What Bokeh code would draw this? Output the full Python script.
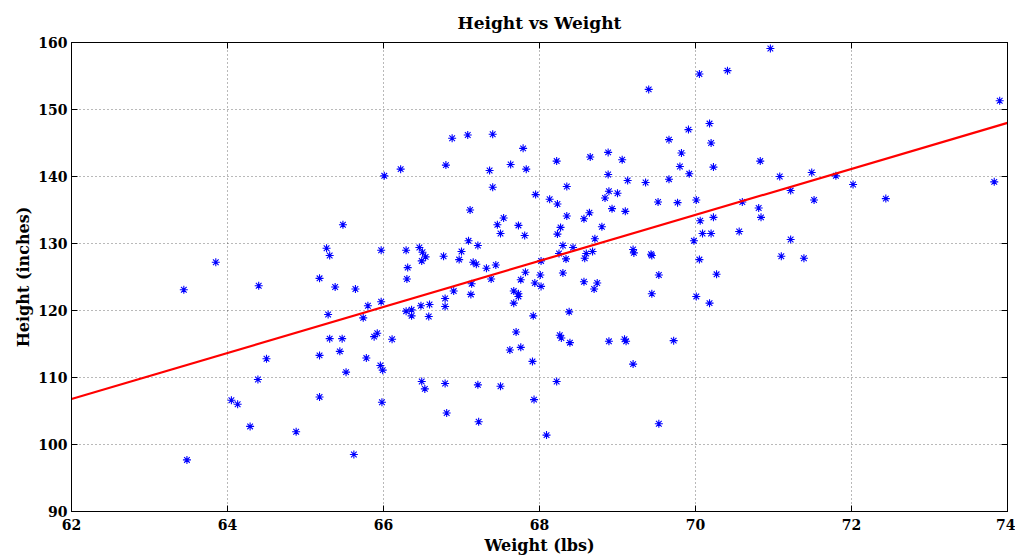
from bokeh.plotting import figure
from bokeh.models import LinearAxis, FixedTicker, Range1d
from bokeh.embed import file_html
from bokeh.resources import INLINE

# Weight (lbs) / Height (inches) samples
weight = [
    66.01, 66.22, 66.88, 67.08, 67.40, 66.80, 67.36, 67.63, 67.79, 67.83, 67.40, 67.95,
    68.13, 68.22, 68.35, 68.65, 68.88, 69.06, 68.88, 69.13, 68.89, 69.00, 68.84, 69.36,
    69.40, 69.66, 69.82, 69.91, 69.80, 69.66, 69.92, 69.52, 69.77, 70.01, 70.05, 70.41,
    70.96, 70.18, 70.20, 70.23, 70.83,
    73.90, 71.08, 71.49, 71.80, 71.22, 72.02, 73.83, 71.52, 72.44,
    63.85, 63.44, 64.40, 64.50,
    65.48, 65.27, 65.31, 65.18, 65.38, 65.64, 65.80, 65.97, 65.29, 65.74, 65.92, 65.88,
    65.31, 65.47, 66.11, 65.44, 65.18, 65.78, 65.97, 66.29, 66.31, 66.30, 66.46, 66.50,
    66.54, 66.49, 66.77, 67.00, 66.97, 67.09, 67.21, 67.11, 67.46, 67.54, 67.50, 67.73,
    67.81, 67.15, 67.19, 67.32, 67.44, 67.13, 67.12, 66.90, 67.38, 67.76, 67.82, 66.79,
    66.79, 66.48, 66.59, 66.29, 66.36, 66.36, 66.58, 67.67, 67.73, 67.73, 67.67, 67.92,
    67.70, 67.62, 67.76, 67.94, 67.91,
    70.60, 70.81, 70.84, 68.35, 68.64, 68.57, 68.93, 69.10, 68.27, 68.23, 68.80, 68.71,
    68.30, 68.43, 68.25, 68.34, 68.68, 68.60, 68.58, 68.02, 68.01, 68.30, 68.02, 68.57,
    68.74, 68.70, 69.20, 69.21, 69.43, 69.44, 69.53, 69.44, 69.98, 70.06, 70.09, 70.20,
    70.23, 70.56, 70.05, 70.27, 70.01, 70.18, 68.38, 68.26, 68.28, 68.39, 68.89, 69.09,
    69.11, 69.72, 68.23,
    71.22, 71.10, 71.39,
    64.39, 64.05, 64.13, 64.29, 64.88, 63.48,
    65.96, 65.99, 65.52, 65.18, 65.98, 66.49, 66.53, 66.79, 66.81, 67.21, 67.50, 67.22,
    65.62, 67.93,
    69.20, 68.22, 69.53, 68.09,
]
height = [
    140.1, 141.1, 145.7, 146.2, 146.3, 141.7, 140.9, 141.8, 144.2, 141.1, 138.4, 137.3,
    136.6, 142.3, 138.5, 142.9, 143.6, 142.5, 140.3, 139.4, 137.8, 137.5, 136.8, 139.1,
    153.0, 145.5, 143.5, 147.0, 141.5, 139.6, 140.4, 136.2, 136.1, 136.5, 155.3, 155.8,
    159.1, 147.9, 145.0, 141.4, 142.3,
    151.3, 140.0, 140.6, 140.1, 137.9, 138.8, 139.2, 136.5, 136.7,
    127.2, 123.1, 123.7, 112.8,
    132.8, 129.3, 128.2, 124.8, 123.5, 123.2, 120.7, 121.3, 119.4, 118.9, 116.6, 116.1,
    115.8, 115.8, 115.7, 113.9, 113.3, 112.9, 129.0, 129.0, 126.4, 124.7, 129.4, 128.7,
    128.0, 127.4, 128.1, 128.8, 127.6, 130.4, 129.7, 135.0, 132.8, 133.8, 131.5, 132.7,
    131.2, 127.2, 126.9, 126.3, 126.8, 124.0, 122.4, 122.9, 124.7, 124.6, 125.7, 121.8,
    120.6, 120.7, 120.9, 119.9, 120.1, 119.2, 119.1, 122.9, 122.5, 122.1, 121.1, 119.2,
    116.8, 114.1, 114.5, 124.1, 112.4,
    136.2, 135.3, 133.9, 134.1, 134.6, 133.7, 135.2, 134.8, 132.4, 131.4, 132.5, 130.7,
    129.7, 129.4, 128.5, 127.7, 128.8, 128.5, 127.8, 127.4, 125.3, 125.6, 123.6, 124.3,
    124.1, 123.2, 129.1, 128.6, 128.4, 128.2, 125.3, 122.5, 130.4, 133.4, 131.5, 131.5,
    133.9, 131.8, 127.6, 125.4, 122.1, 121.1, 119.8, 116.3, 115.9, 115.2, 115.4, 115.7,
    115.4, 115.5, 135.9,
    130.6, 128.1, 127.8,
    109.7, 106.6, 106.0, 102.7, 101.9, 97.7,
    111.8, 111.1, 110.8, 107.1, 106.3, 109.4, 108.3, 109.1, 104.7, 108.9, 108.7, 103.4,
    98.5, 106.7,
    112.0, 109.4, 103.1, 101.4,
]

# Fitted line
fit_x = [62, 74]
fit_y = [106.8, 148.0]

x_ticks = [62, 64, 66, 68, 70, 72, 74]
y_ticks = [90, 100, 110, 120, 130, 140, 150, 160]

FONT = "DejaVu Serif"

p = figure(width=1015, height=557, output_backend="svg", toolbar_location=None,
           x_range=Range1d(62, 74), y_range=Range1d(90, 160),
           min_border_left=71, min_border_right=8, min_border_top=41, min_border_bottom=46,
           title="Height vs Weight")

p.title.align = "center"
p.title.text_font = FONT
p.title.text_font_style = "bold"
p.title.text_font_size = "17px"
p.title.text_color = "black"
p.title.standoff = 20

p.scatter(weight, height, marker="asterisk", size=8, line_color="#0000ff", line_width=1.1)
p.line(fit_x, fit_y, line_color="#ff0000", line_width=2.2)

for ax in (p.xaxis[0], p.yaxis[0]):
    ax.major_label_text_font = FONT
    ax.major_label_text_font_style = "bold"
    ax.major_label_text_font_size = "14px"
    ax.major_label_text_color = "black"
    ax.axis_label_text_font = FONT
    ax.axis_label_text_font_style = "bold"
    ax.axis_label_text_font_size = "16px"
    ax.axis_label_text_color = "black"
    ax.major_tick_in = 6
    ax.major_tick_out = 0
    ax.minor_tick_in = 0
    ax.minor_tick_out = 0
    ax.axis_line_color = "black"
    ax.major_tick_line_color = "black"
    ax.major_label_standoff = 4
    ax.axis_label_standoff = 2

p.xaxis[0].major_label_standoff = 7
p.xaxis[0].axis_label_standoff = 3

p.xaxis[0].ticker = FixedTicker(ticks=x_ticks)
p.yaxis[0].ticker = FixedTicker(ticks=y_ticks)
p.xaxis[0].axis_label = "Weight (lbs)"
p.yaxis[0].axis_label = "Height (inches)"

top = LinearAxis(ticker=FixedTicker(ticks=x_ticks), major_label_text_font_size="0px",
                 major_tick_in=6, major_tick_out=0, minor_tick_in=0, minor_tick_out=0,
                 axis_line_color="black", major_label_standoff=0)
right = LinearAxis(ticker=FixedTicker(ticks=y_ticks), major_label_text_font_size="0px",
                   major_tick_in=6, major_tick_out=0, minor_tick_in=0, minor_tick_out=0,
                   axis_line_color="black", major_label_standoff=0)
p.add_layout(top, "above")
p.add_layout(right, "right")

p.xgrid.ticker = FixedTicker(ticks=x_ticks)
p.ygrid.ticker = FixedTicker(ticks=y_ticks)
for g in (p.xgrid[0], p.ygrid[0]):
    g.grid_line_color = "#000000"
    g.grid_line_alpha = 0.55
    g.grid_line_dash = "1 3"
    g.grid_line_width = 1

p.outline_line_color = "black"
p.background_fill_color = "white"
p.border_fill_color = "white"

open("out.html", "w").write(file_html(p, INLINE))
